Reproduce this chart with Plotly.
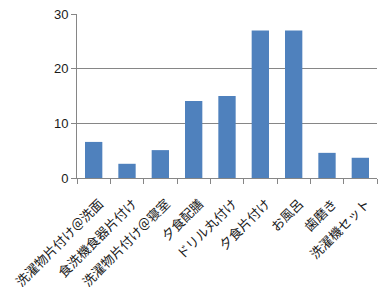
import plotly.graph_objects as go

categories = ["洗濯物片付け＠洗面", "食洗機食器片付け", "洗濯物片付け＠寝室", "夕食配膳",
              "ドリル丸付け", "夕食片付け", "お風呂", "歯磨き", "洗濯機セット"]
values = [6.6, 2.6, 5.1, 14.1, 15.0, 27.0, 27.0, 4.6, 3.7]
y_ticks = [0, 10, 20, 30]

fig = go.Figure(go.Bar(x=categories, y=values, marker_color="#4F81BD", marker_line_width=0))
axis_color = "#868686"
fig.update_layout(
    width=391, height=295,
    margin=dict(l=77, r=14, t=14, b=117),
    paper_bgcolor="white", plot_bgcolor="white",
    bargap=0.48,
    showlegend=False,
    font=dict(family="Noto Sans CJK JP", size=12, color="#1a1a1a"),
)
fig.update_yaxes(range=[0, 30], tickvals=y_ticks, showgrid=True, gridcolor=axis_color, gridwidth=1,
                 showline=True, linecolor=axis_color, linewidth=1, ticks="outside", ticklen=5,
                 tickcolor=axis_color, zeroline=False, automargin=False,
                 tickfont=dict(size=13, family="Liberation Sans"))
fig.update_xaxes(showline=True, linecolor=axis_color, linewidth=1, ticks="outside", ticklen=5,
                 tickcolor=axis_color, tickson="boundaries", tickangle=-45, automargin=False,
                 ticklabelstandoff=12, ticklabelshift=6, tickfont=dict(size=13))
fig.write_html("out.html")
